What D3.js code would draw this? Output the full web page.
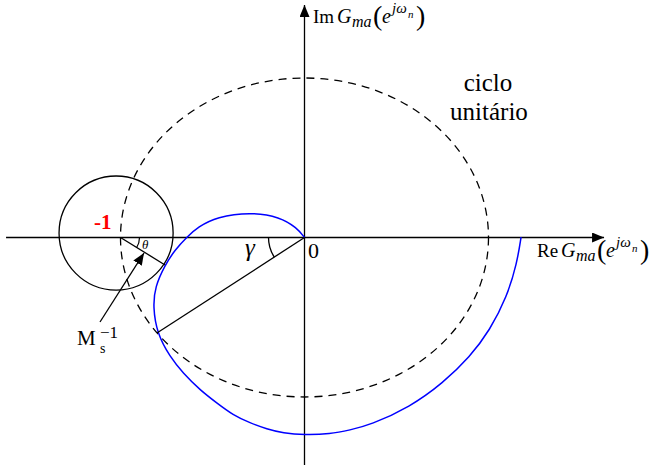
<!DOCTYPE html>
<html>
<head>
<meta charset="utf-8">
<script src="https://cdn.jsdelivr.net/npm/d3@7"></script>
<style>
  html, body { margin: 0; padding: 0; background: #fff; }
  svg { display: block; }
  svg text, svg tspan { font-family: "Liberation Serif", serif; }
</style>
</head>
<body>
<svg id="chart" width="659" height="469"></svg>
<script>
// Nyquist curve of the open-loop gain G_ma(e^{jω_n}) (Re, Im)
const curveRe = [0, -0.041, -0.133, -0.296, -0.476, -0.579, -0.639, -0.704, -0.758, -0.813, -0.823, -0.802,
                 -0.731, -0.660, -0.568, -0.476, -0.389, -0.296, -0.204, -0.117, 0, 0.139, 0.247, 0.356,
                 0.573, 0.753, 0.899, 1.008, 1.1, 1.155, 1.177];
const curveIm = [0, 0.060, 0.129, 0.160, 0.129, 0.066, 0.003, -0.078, -0.172, -0.310, -0.436, -0.599,
                 -0.749, -0.850, -0.956, -1.038, -1.113, -1.163, -1.201, -1.226, -1.238, -1.232, -1.207, -1.176,
                 -1.063, -0.912, -0.749, -0.580, -0.373, -0.160, 0.003];

// Critical point -1 and the M_s^{-1} circle around it
const criticalPoint = [-1, 0];
const msCenter = [-1.024, 0.028];
const msRadius = 0.31;           // in Re units
// Point where the M_s^{-1} circle touches the curve
const tangentPoint = [-0.758, -0.172];
// Point of the curve used for the phase-margin angle γ
const gammaPoint = [-0.802, -0.599];

// Axis extents
const reExtent = [-1.622, 1.628];
const imExtent = [-1.426, 1.458];

const FONT = 'Liberation Serif';

const svg = d3.select("#chart");
const x = d3.scaleLinear().domain([-1, 1]).range([120.5, 488.5]);
const y = d3.scaleLinear().domain([-1, 1]).range([397, 78]);

// Arrowheads
const defs = svg.append("defs");
defs.append("marker")
  .attr("id", "arrow")
  .attr("viewBox", "0 0 12 10")
  .attr("refX", 12).attr("refY", 5)
  .attr("markerWidth", 12).attr("markerHeight", 10)
  .attr("markerUnits", "userSpaceOnUse")
  .attr("orient", "auto")
  .append("path").attr("d", "M0,0 L12,5 L0,10 Z").attr("fill", "#000");

// Axes
svg.append("line")
  .attr("x1", x(reExtent[0])).attr("x2", x(reExtent[1]))
  .attr("y1", y(0)).attr("y2", y(0))
  .attr("stroke", "#000").attr("stroke-width", 1.3)
  .attr("marker-end", "url(#arrow)");
svg.append("line")
  .attr("x1", x(0)).attr("x2", x(0))
  .attr("y1", y(imExtent[0])).attr("y2", y(imExtent[1]))
  .attr("stroke", "#000").attr("stroke-width", 1.3)
  .attr("marker-end", "url(#arrow)");

// Unit circle (dashed)
svg.append("ellipse")
  .attr("cx", x(0)).attr("cy", y(0))
  .attr("rx", x(1) - x(0)).attr("ry", y(0) - y(1))
  .attr("fill", "none").attr("stroke", "#000")
  .attr("stroke-width", 1.3).attr("stroke-dasharray", "8,6");

// M_s^{-1} circle
svg.append("circle")
  .attr("cx", x(msCenter[0])).attr("cy", y(msCenter[1]))
  .attr("r", x(msRadius) - x(0))
  .attr("fill", "none").attr("stroke", "#000").attr("stroke-width", 1.3);

// Nyquist curve (smoothed B-spline through the sampled points)
const pts = curveRe.map((r, i) => [r, curveIm[i]]);
svg.append("path")
  .datum(pts)
  .attr("d", d3.line().x(d => x(d[0])).y(d => y(d[1])).curve(d3.curveBasis))
  .attr("fill", "none").attr("stroke", "#0000ff").attr("stroke-width", 1.5);

// Radius of the M_s^{-1} circle
svg.append("line")
  .attr("x1", x(criticalPoint[0])).attr("y1", y(criticalPoint[1]))
  .attr("x2", x(tangentPoint[0])).attr("y2", y(tangentPoint[1]))
  .attr("stroke", "#000").attr("stroke-width", 1.3);

// Line from origin for the angle γ
svg.append("line")
  .attr("x1", x(0)).attr("y1", y(0))
  .attr("x2", x(gammaPoint[0])).attr("y2", y(gammaPoint[1]))
  .attr("stroke", "#000").attr("stroke-width", 1.3);

// Angle arcs
function angleArc(cx, cy, r, a0, a1) {
  const p = d3.path();
  p.arc(cx, cy, r, a0, a1, a1 < a0);
  return p.toString();
}
const thetaAng = Math.atan2(y(tangentPoint[1]) - y(criticalPoint[1]), x(tangentPoint[0]) - x(criticalPoint[0]));
svg.append("path")
  .attr("d", angleArc(x(criticalPoint[0]), y(criticalPoint[1]), 19, 0, thetaAng))
  .attr("fill", "none").attr("stroke", "#000").attr("stroke-width", 1.2);
const gammaAng = Math.atan2(y(gammaPoint[1]) - y(0), x(gammaPoint[0]) - x(0));
svg.append("path")
  .attr("d", angleArc(x(0), y(0), 36, Math.PI, gammaAng))
  .attr("fill", "none").attr("stroke", "#000").attr("stroke-width", 1.3);

// Arrow pointing at the circle radius
svg.append("line")
  .attr("x1", 100).attr("y1", 322)
  .attr("x2", 144).attr("y2", 253)
  .attr("stroke", "#000").attr("stroke-width", 1.3)
  .attr("marker-end", "url(#arrow)");

// Labels
function addText(x0, y0, size) {
  return svg.append("text").attr("x", x0).attr("y", y0)
    .attr("font-size", size).style("font-family", FONT).attr("fill", "#000");
}
// Plain label written inside a tspan, so it shares the font setup of the math labels
function addLabel(x0, y0, size, str) {
  const t = addText(x0, y0, size);
  const s = t.append("tspan").style("font-family", FONT).text(str);
  return { text: t, span: s };
}
// Axis label "Xx G_ma(e^{jω_n})": each piece placed at an offset from the label start
const labelPieces = [
  { t: null, size: 19, it: false, ox: 0,   oy: 0 },
  { t: "G",  size: 20, it: true,  ox: 24,  oy: 0 },
  { t: "ma", size: 16, it: true,  ox: 39,  oy: 4 },
  { t: "(",  size: 28, it: false, ox: 60,  oy: 2 },
  { t: "e",  size: 20, it: true,  ox: 69,  oy: 0 },
  { t: "jω", size: 15, it: true,  ox: 79,  oy: -10 },
  { t: "n",  size: 11, it: true,  ox: 95,  oy: -5 },
  { t: ")",  size: 28, it: false, ox: 103, oy: 2 }
];
function axisLabel(name, x0, y0) {
  const t = addText(x0, y0, 19);
  labelPieces.forEach(p => {
    const s = t.append("tspan")
      .attr("x", x0 + p.ox).attr("y", y0 + p.oy)
      .attr("font-size", p.size).style("font-family", FONT)
      .text(p.t === null ? name : p.t);
    if (p.it) s.style("font-style", "italic");
  });
}
axisLabel("Im", 313, 23);
axisLabel("Re", 537, 257);

addLabel(488, 91, 25, "ciclo").text.attr("text-anchor", "middle");
addLabel(489, 120, 25, "unitário").text.attr("text-anchor", "middle");

const minusOne = addLabel(94, 229, 21, "-1");
minusOne.span.style("font-weight", "bold").attr("fill", "#ff0000");

addLabel(308, 258, 22, "0");
addLabel(245, 256, 25, "γ").span.style("font-style", "italic");
addLabel(142, 249, 13, "θ").span.style("font-style", "italic");

const ms = addText(77, 345, 21);
ms.append("tspan").style("font-family", FONT).text("M");
ms.append("tspan").attr("x", 100).attr("y", 353).attr("font-size", 14).style("font-family", FONT).text("s");
ms.append("tspan").attr("x", 100).attr("y", 338).attr("font-size", 17).style("font-family", FONT).text("−1");
</script>
</body>
</html>
